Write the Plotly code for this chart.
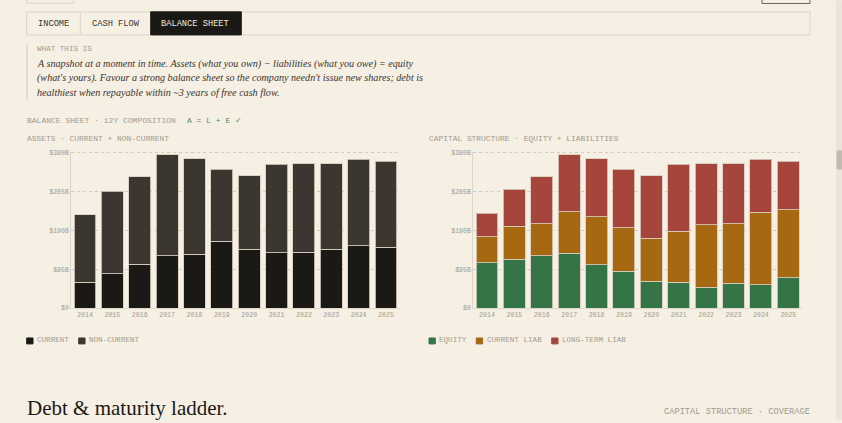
import plotly.graph_objects as go

W, H = 842, 423

years = ["2014", "2015", "2016", "2017", "2018", "2019", "2020", "2021", "2022", "2023", "2024", "2025"]
# Assets ($B)
current_assets = [63, 84, 107, 128, 132, 163, 144, 135, 136, 144, 153, 149]
total_assets = [228, 286, 322, 376, 366, 340, 324, 352, 353, 353, 365, 359]
noncurrent_assets = [t - c for t, c in zip(total_assets, current_assets)]
# Capital structure ($B)
equity = [111, 119, 128, 134, 106, 90, 66, 63, 51, 61, 57, 74]
current_liab = [64, 81, 79, 102, 118, 107, 105, 125, 153, 146, 177, 167]
longterm_liab = [57, 91, 115, 140, 142, 143, 153, 164, 149, 146, 131, 118]

y_ticks = [0, 95, 190, 285, 380]
y_ticktext = ["$0", "$95B", "$190B", "$285B", "$380B"]

BG = "#f5efe4"
INK = "#1b1915"
INK2 = "#3b362f"
GREEN = "#357446"
AMBER = "#a66811"
RED = "#a6453c"
MUTED = "#a39b8d"
RULE = "#ddd5c6"
MONO = "Liberation Mono"
SERIF = "Liberation Serif"

def px(x):
    return x / W

def py(y):
    return 1 - y / H

fig = go.Figure()
edge = dict(color="rgba(214,205,189,0.85)", width=1)
fig.add_trace(go.Bar(x=years, y=current_assets, name="Current", marker=dict(color=INK, line=edge), xaxis="x", yaxis="y"))
fig.add_trace(go.Bar(x=years, y=noncurrent_assets, name="Non-current", marker=dict(color=INK2, line=edge), xaxis="x", yaxis="y"))
fig.add_trace(go.Bar(x=years, y=equity, name="Equity", marker=dict(color=GREEN, line=edge), xaxis="x2", yaxis="y2"))
fig.add_trace(go.Bar(x=years, y=current_liab, name="Current liab", marker=dict(color=AMBER, line=edge), xaxis="x2", yaxis="y2"))
fig.add_trace(go.Bar(x=years, y=longterm_liab, name="Long-term liab", marker=dict(color=RED, line=edge), xaxis="x2", yaxis="y2"))

# plot area: $0 at 310.7px, $380B at 153.7px; range extended slightly so the top grid line shows
ymax = 383
ydom = [py(310.7), py(310.7 - ymax * 157.0 / 380)]
xaxis_common = dict(showgrid=False, showline=True, linecolor=RULE, linewidth=1, ticks="",
                    tickfont=dict(family=MONO, size=6.6, color=MUTED), fixedrange=True)
yaxis_common = dict(range=[0, ymax], tickvals=y_ticks, ticktext=y_ticktext, showgrid=True,
                    gridcolor="#d3cab8", griddash="dot", gridwidth=1, showline=True, linecolor=RULE,
                    linewidth=1, zeroline=False, ticks="", tickfont=dict(family=MONO, size=6.6, color=MUTED),
                    fixedrange=True)

fig.update_layout(
    width=W, height=H, margin=dict(l=0, r=0, t=0, b=0),
    paper_bgcolor=BG, plot_bgcolor=BG, barmode="stack", bargap=0.2, showlegend=False,
    xaxis=dict(domain=[px(71.3), px(399.7)], anchor="y", **xaxis_common),
    yaxis=dict(domain=ydom, anchor="x", **yaxis_common),
    xaxis2=dict(domain=[px(473.3), px(802)], anchor="y2", **xaxis_common),
    yaxis2=dict(domain=ydom, anchor="x2", **yaxis_common),
)

shapes = []
annots = []

def rect(x0, y0, x1, y1, fill=None, line=None, lw=1):
    shapes.append(dict(type="rect", xref="paper", yref="paper", x0=px(x0), x1=px(x1), y0=py(y1), y1=py(y0),
                       fillcolor=fill or "rgba(0,0,0,0)", line=dict(color=line or "rgba(0,0,0,0)", width=lw), layer="below"))

def text(x, y, s, size, color, family=MONO, xanchor="left"):
    annots.append(dict(x=px(x), y=py(y), xref="paper", yref="paper", text=s, showarrow=False,
                       xanchor=xanchor, yanchor="middle", borderpad=0, borderwidth=0,
                       font=dict(family=family, size=size, color=color)))

# cut-off elements at top
rect(26.7, -5, 74, 2.3, line=RULE)
rect(762, -5, 810, 2.5, line="#6b655c")
# tab bar
rect(26.7, 11, 810, 34.3, line=RULE)
rect(150.7, 11, 241.3, 34.3, fill=INK, line=INK)
shapes.append(dict(type="line", xref="paper", yref="paper", x0=px(80.3), x1=px(80.3), y0=py(11), y1=py(34.3),
                   line=dict(color=RULE, width=1)))
text(37.7, 23.3, "INCOME", 8.7, INK2)
text(91.7, 23.3, "CASH FLOW", 8.7, INK2)
text(161.3, 23.3, "BALANCE SHEET", 8.7, "#efe8dc")

# explainer block
shapes.append(dict(type="line", xref="paper", yref="paper", x0=px(27), x1=px(27), y0=py(44), y1=py(99.3),
                   line=dict(color=RULE, width=1.5)))
text(36.7, 48.7, "WHAT THIS IS", 7.6, MUTED)
para = [
    "A snapshot at a moment in time. Assets (what you own) − liabilities (what you owe) = equity",
    "(what's yours). Favour a strong balance sheet so the company needn't issue new shares; debt is",
    "healthiest when repayable within ~3 years of free cash flow.",
]
for i, line in enumerate(para):
    text(36.7, 63.3 + i * 14.7, "<i>" + line + "</i>", 10.15, "#3a342c", family=SERIF)

text(26.7, 121, "BALANCE SHEET · 12Y COMPOSITION", 8.0, MUTED)
text(186.7, 121, "A = L + E ✓", 8.0, "#4f8a5e")
text(26.7, 139, "ASSETS · CURRENT + NON-CURRENT", 7.9, MUTED)
text(429, 139, "CAPITAL STRUCTURE · EQUITY + LIABILITIES", 7.9, MUTED)

# legends
def legend_item(x, color, label):
    rect(x, 341, x + 6.3, 347, fill=color, line=color)
    text(x + 10.3, 343.5, label, 7.6, MUTED)

legend_item(26.7, INK, "CURRENT")
legend_item(78.7, INK2, "NON-CURRENT")
legend_item(429, GREEN, "EQUITY")
legend_item(476.3, AMBER, "CURRENT LIAB")
legend_item(551.7, RED, "LONG-TERM LIAB")

text(26.7, 411.5, "Debt &amp; maturity ladder.", 21, "#1b1915", family=SERIF)
text(810, 415.7, "CAPITAL STRUCTURE · COVERAGE", 8.7, MUTED, xanchor="right")

# scrollbar
rect(836.5, 0, 842, 423, fill="#ebe4d8", line="#ebe4d8")
rect(837, 151.7, 842, 170, fill="#c2bbb0", line="#c2bbb0")

fig.update_layout(shapes=shapes, annotations=annots)
fig.write_html("out.html")
